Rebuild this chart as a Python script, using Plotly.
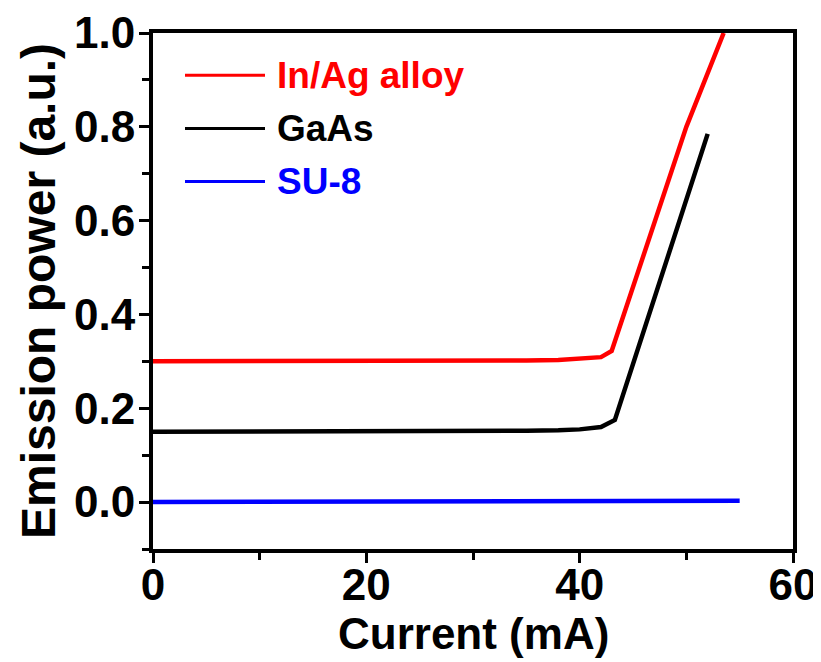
import plotly.graph_objects as go

# Data
inag_x = [0, 5, 10, 15, 20, 25, 30, 35, 38, 40, 42, 43, 50, 53.5]
inag_y = [0.30, 0.30, 0.30, 0.30, 0.30, 0.30, 0.301, 0.302, 0.303, 0.305, 0.309, 0.322, 0.80, 1.0]
gaas_x = [0, 5, 10, 15, 20, 25, 30, 35, 38, 40, 42, 43.3, 52]
gaas_y = [0.15, 0.15, 0.15, 0.15, 0.15, 0.151, 0.151, 0.152, 0.153, 0.155, 0.16, 0.175, 0.785]
su8_x = [0, 10, 20, 30, 40, 50, 55]
su8_y = [0.0, 0.0005, 0.001, 0.0015, 0.002, 0.0025, 0.003]

names = ["In/Ag alloy", "GaAs", "SU-8"]
colors = ["#ff0000", "#000000", "#0000ff"]

xticks = [0, 20, 40, 60]
yticks = [0.0, 0.2, 0.4, 0.6, 0.8, 1.0]

FONT = "Liberation Sans, Arial, sans-serif"

fig = go.Figure()
for xs, ys, nm, c in zip([inag_x, gaas_x, su8_x], [inag_y, gaas_y, su8_y], names, colors):
    fig.add_trace(go.Scatter(x=xs, y=ys, mode="lines", name=nm,
                             line=dict(color=c, width=4.5), showlegend=False))

# Manual legend
leg_y = [0.918, 0.815, 0.712]
for nm, c, yy in zip(names, colors, leg_y):
    fig.add_shape(type="line", xref="paper", yref="paper",
                  x0=0.05, x1=0.175, y0=yy, y1=yy,
                  line=dict(color=c, width=3))
    fig.add_annotation(xref="paper", yref="paper", x=0.19, y=yy,
                       text=nm, showarrow=False, xanchor="left", yanchor="middle",
                       font=dict(family=FONT, size=37, color=c, weight="bold"))

# X axis title as annotation for precise placement
fig.add_annotation(xref="paper", yref="paper", x=0.5, y=-0.163,
                   text="Current (mA)", showarrow=False, xanchor="center", yanchor="middle",
                   font=dict(family=FONT, size=44, color="black", weight="bold"))

axis_common = dict(showline=True, linewidth=4, linecolor="black", mirror=True,
                   ticks="outside", ticklen=10, tickwidth=3, tickcolor="black",
                   showgrid=False, zeroline=False,
                   tickfont=dict(family=FONT, size=44, color="black", weight="bold"))

fig.update_xaxes(range=[0, 60], tickvals=xticks, ticktext=[str(v) for v in xticks],
                 ticklabelstandoff=-16,
                 minor=dict(tickvals=[10, 30, 50], ticks="outside", ticklen=7,
                            tickwidth=3, tickcolor="black"),
                 **axis_common)
fig.update_yaxes(range=[-0.1, 1.0], tickvals=yticks, ticktext=[f"{v:.1f}" for v in yticks],
                 ticklabelstandoff=-5,
                 minor=dict(tickvals=[-0.1, 0.1, 0.3, 0.5, 0.7, 0.9], ticks="outside", ticklen=7,
                            tickwidth=3, tickcolor="black"),
                 title=dict(text="Emission power (a.u.)", standoff=4,
                            font=dict(family=FONT, size=48, color="black", weight="bold")),
                 **axis_common)

fig.update_layout(width=821, height=662,
                  margin=dict(l=145, r=36, t=25, b=121, autoexpand=False),
                  plot_bgcolor="white", paper_bgcolor="white")

fig.write_html("out.html")
